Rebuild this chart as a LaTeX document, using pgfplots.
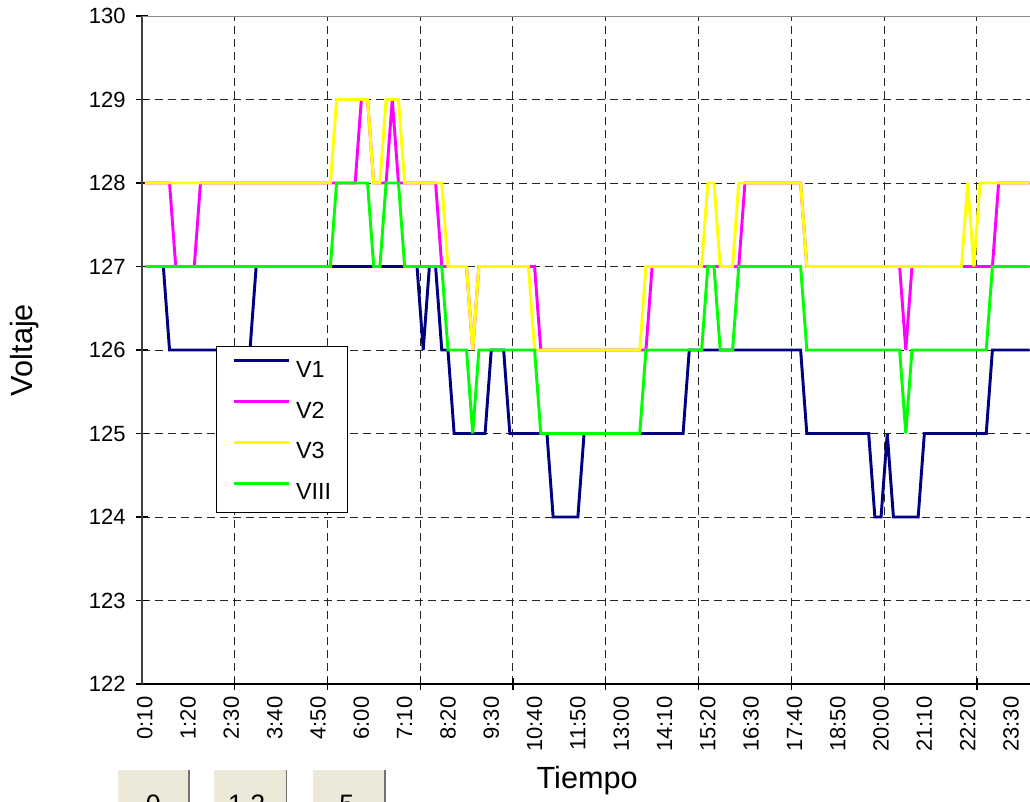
\documentclass[border=0pt]{standalone}
\usepackage{fontspec}
\setmainfont{Liberation Sans}
\usepackage{pgfplots}
\pgfplotsset{compat=1.18}
\usepackage{pgfplotstable}

\definecolor{vone}{RGB}{0,0,128}
\definecolor{vtwo}{RGB}{255,0,255}
\definecolor{vthree}{RGB}{255,255,0}
\definecolor{vfour}{RGB}{0,255,0}
\definecolor{btn}{RGB}{236,233,216}

\pgfplotstableread{
i V1 V2 V3 VIII
0 127 128 128 127
1 127 128 128 127
2 127 128 128 127
3 127 128 128 127
4 126 128 128 127
5 126 127 128 127
6 126 127 128 127
7 126 127 128 127
8 126 127 128 127
9 126 128 128 127
10 126 128 128 127
11 126 128 128 127
12 126 128 128 127
13 126 128 128 127
14 126 128 128 127
15 126 128 128 127
16 126 128 128 127
17 126 128 128 127
18 127 128 128 127
19 127 128 128 127
20 127 128 128 127
21 127 128 128 127
22 127 128 128 127
23 127 128 128 127
24 127 128 128 127
25 127 128 128 127
26 127 128 128 127
27 127 128 128 127
28 127 128 128 127
29 127 128 128 127
30 127 128 128 127
31 127 128 129 128
32 127 128 129 128
33 127 128 129 128
34 127 128 129 128
35 127 129 129 128
36 127 129 129 128
37 127 128 128 127
38 127 128 128 127
39 127 128 129 128
40 127 129 129 128
41 127 128 129 128
42 127 128 128 127
43 127 128 128 127
44 127 128 128 127
45 126 128 128 127
46 127 128 128 127
47 127 128 128 127
48 126 127 128 127
49 126 127 127 126
50 125 127 127 126
51 125 127 127 126
52 125 127 127 126
53 125 126 126 125
54 125 127 127 126
55 125 127 127 126
56 126 127 127 126
57 126 127 127 126
58 126 127 127 126
59 125 127 127 126
60 125 127 127 126
61 125 127 127 126
62 125 127 127 126
63 125 127 126 126
64 125 126 126 125
65 125 126 126 125
66 124 126 126 125
67 124 126 126 125
68 124 126 126 125
69 124 126 126 125
70 124 126 126 125
71 125 126 126 125
72 125 126 126 125
73 125 126 126 125
74 125 126 126 125
75 125 126 126 125
76 125 126 126 125
77 125 126 126 125
78 125 126 126 125
79 125 126 126 125
80 125 126 126 125
81 125 126 127 126
82 125 127 127 126
83 125 127 127 126
84 125 127 127 126
85 125 127 127 126
86 125 127 127 126
87 125 127 127 126
88 126 127 127 126
89 126 127 127 126
90 126 127 127 126
91 126 127 128 127
92 126 127 128 127
93 126 127 127 126
94 126 127 127 126
95 126 127 127 126
96 126 127 128 127
97 126 128 128 127
98 126 128 128 127
99 126 128 128 127
100 126 128 128 127
101 126 128 128 127
102 126 128 128 127
103 126 128 128 127
104 126 128 128 127
105 126 128 128 127
106 126 128 128 127
107 125 127 127 126
108 125 127 127 126
109 125 127 127 126
110 125 127 127 126
111 125 127 127 126
112 125 127 127 126
113 125 127 127 126
114 125 127 127 126
115 125 127 127 126
116 125 127 127 126
117 125 127 127 126
118 124 127 127 126
119 124 127 127 126
120 125 127 127 126
121 124 127 127 126
122 124 127 127 126
123 124 126 127 125
124 124 127 127 126
125 124 127 127 126
126 125 127 127 126
127 125 127 127 126
128 125 127 127 126
129 125 127 127 126
130 125 127 127 126
131 125 127 127 126
132 125 127 127 126
133 125 127 128 126
134 125 127 127 126
135 125 127 128 126
136 125 127 128 126
137 126 127 128 127
138 126 128 128 127
139 126 128 128 127
140 126 128 128 127
141 126 128 128 127
142 126 128 128 127
143 126 128 128 127
}\datatable

\begin{document}
\begin{tikzpicture}
\path[use as bounding box] (-106.275pt,-87.75pt) rectangle (666.225pt,513pt);
\begin{scope}
\clip (-106.275pt,-87.75pt) rectangle (666.225pt,513pt);
\begin{axis}[
  at={(0pt,0pt)}, anchor=south west,
  scale only axis, width=668.2pt, height=501pt,
  xmin=-0.5, xmax=143.5, ymin=122, ymax=130,
  axis lines*=left,
  x axis line style={black, line width=1.4pt},
  y axis line style={black!75, line width=1.4pt},
  tick align=center, major tick length=9pt,
  tick style={black, line width=0.9pt},
  ytick={122,123,...,130},
  xtick={14.5,29.5,...,134.5},
  xticklabels={\mbox{},\mbox{},\mbox{},\mbox{},\mbox{},\mbox{},\mbox{},\mbox{},\mbox{}},
  grid=major,
  grid style={black!85, line width=0.75pt, dash pattern=on 6pt off 3.75pt},
  extra x ticks={0,7,...,140},
  extra x tick labels={0:10,1:20,2:30,3:40,4:50,6:00,7:10,8:20,9:30,10:40,11:50,13:00,14:10,15:20,16:30,17:40,18:50,20:00,21:10,22:20,23:30},
  extra x tick style={major tick length=0pt, grid=none},
  xticklabel style={rotate=90, anchor=east, xshift=-6pt},
  yticklabel style={xshift=-4pt},
  tick label style={font=\fontsize{16.5}{19}\selectfont},
  /pgf/number format/assume math mode=true,
  xlabel={Tiempo}, ylabel={Voltaje},
  label style={font=\fontsize{23}{27}\selectfont},
  xlabel style={at={(axis description cs:0.5,-0.157)}, anchor=base},
  ylabel style={at={(axis description cs:-0.132,0.5)}, anchor=center},
  legend style={at={(axis description cs:0.0834,0.506)}, anchor=north west, draw=black, line width=0.75pt, fill=white, font=\fontsize{17.5}{20}\selectfont, inner xsep=12pt, inner ysep=9.5pt, row sep=17pt, column sep=4.5pt, nodes={inner sep=0pt, text height=12.5pt, text depth=0pt}},
  legend cell align=left,
  legend image code/.code={\draw[#1, line width=2.2pt] (0pt,6.25pt) -- (41pt,6.25pt);},
]
\addplot[vone, line width=2.2pt, no markers] table[x=i, y=V1] {\datatable};
\addplot[vtwo, line width=2.2pt, no markers] table[x=i, y=V2] {\datatable};
\addplot[vthree, line width=2.2pt, no markers] table[x=i, y=V3] {\datatable};
\addplot[vfour, line width=2.2pt, no markers] table[x=i, y=VIII] {\datatable};
\legend{V1,V2,V3,VIII}
\draw[black!45, line width=1.2pt] (rel axis cs:0,1) -- (rel axis cs:1,1);
\end{axis}
\fill[btn] (-17.8pt,-64.5pt) rectangle (35.5pt,-100pt);
\draw[black!55, line width=1.2pt] (35.5pt,-64.5pt) -- (35.5pt,-100pt);
\fill[btn] (54.2pt,-64.5pt) rectangle (108.7pt,-100pt);
\draw[black!55, line width=1.2pt] (108.7pt,-64.5pt) -- (108.7pt,-100pt);
\fill[btn] (128.3pt,-64.5pt) rectangle (182.5pt,-100pt);
\draw[black!55, line width=1.2pt] (182.5pt,-64.5pt) -- (182.5pt,-100pt);
\node[anchor=north, inner sep=0pt, font=\fontsize{20}{24}\selectfont] at (8.7pt,-83.25pt) {0};
\node[anchor=north, inner sep=0pt, font=\fontsize{20}{24}\selectfont] at (78.75pt,-83.25pt) {1.2};
\node[anchor=north, inner sep=0pt, font=\fontsize{20}{24}\selectfont] at (153.75pt,-83.25pt) {5};
\end{scope}
\end{tikzpicture}
\end{document}
